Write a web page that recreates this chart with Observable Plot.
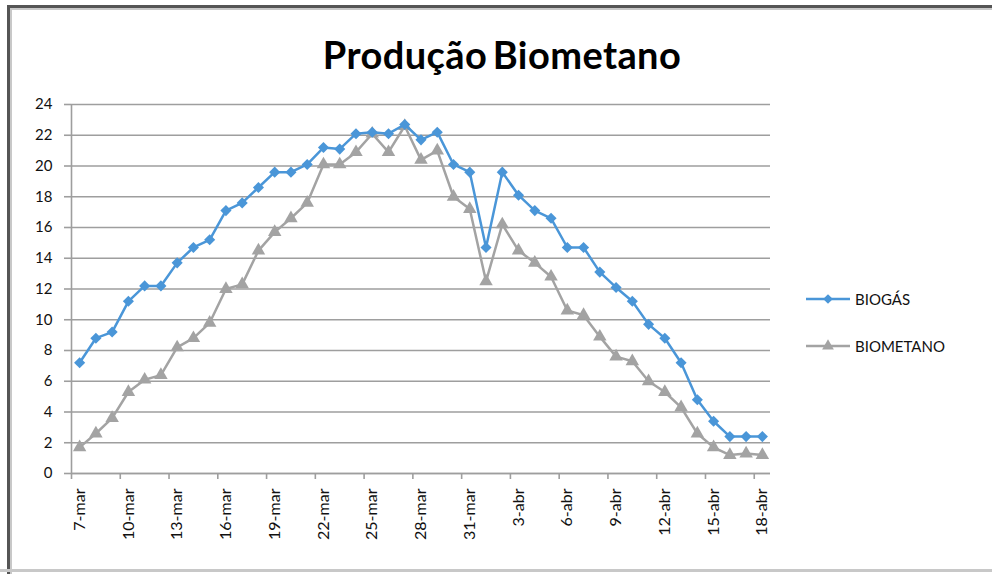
<!DOCTYPE html>
<html>
<head>
<meta charset="utf-8">
<script src="https://cdn.jsdelivr.net/npm/d3@7"></script>
<script src="https://cdn.jsdelivr.net/npm/@observablehq/plot@0.6"></script>
<style>
  html, body { margin: 0; padding: 0; background: #fff; }
  #frame { position: relative; width: 992px; height: 574px; overflow: hidden; background: #fff; font-family: Lato, "Open Sans", sans-serif; }
  #title { position: absolute; top: 32px; left: 502px; transform: translateX(-50%); font-size: 38px; font-weight: 700; color: #000; white-space: nowrap; letter-spacing: 0.4px; word-spacing: -4px; line-height: 44px; }
  #chart { position: absolute; left: 0; top: 90px; }
  .leg { position: absolute; left: 806px; display: flex; align-items: center; font-size: 15px; color: #111; }
  .leg svg { margin-right: 3px; }
</style>
</head>
<body>
<div id="frame">
  <div style="position:absolute;left:7px;top:5px;width:3px;height:574px;background:#555"></div>
  <div style="position:absolute;left:10px;top:8px;width:2px;height:574px;background:#c8c8c8"></div>
  <div style="position:absolute;left:7px;top:5px;width:992px;height:3px;background:#555"></div>
  <div style="position:absolute;left:10px;top:8px;width:992px;height:2px;background:#c8c8c8"></div>
  <div style="position:absolute;left:0;top:569px;width:992px;height:3px;background:#c8c8c8"></div>
  <div id="title">Produção Biometano</div>
  <div id="chart"></div>
  <div class="leg" id="leg1" style="top:290px"></div>
  <div class="leg" id="leg2" style="top:337px"></div>
</div>
<script>
// Categories (one per day)
const days = [
  "7-mar","8-mar","9-mar","10-mar","11-mar","12-mar","13-mar","14-mar","15-mar","16-mar",
  "17-mar","18-mar","19-mar","20-mar","21-mar","22-mar","23-mar","24-mar","25-mar","26-mar",
  "27-mar","28-mar","29-mar","30-mar","31-mar","1-abr","2-abr","3-abr","4-abr","5-abr",
  "6-abr","7-abr","8-abr","9-abr","10-abr","11-abr","12-abr","13-abr","14-abr","15-abr",
  "16-abr","17-abr","18-abr"
];
// Tick labels shown on the x axis
const xTickLabels = ["7-mar","10-mar","13-mar","16-mar","19-mar","22-mar","25-mar","28-mar","31-mar",
  "3-abr","6-abr","9-abr","12-abr","15-abr","18-abr"];
const yTicks = [0, 2, 4, 6, 8, 10, 12, 14, 16, 18, 20, 22, 24];

// Series
const biogas = [7.2, 8.8, 9.2, 11.2, 12.2, 12.2, 13.7, 14.7, 15.2, 17.1,
  17.6, 18.6, 19.6, 19.6, 20.1, 21.2, 21.1, 22.1, 22.2, 22.1,
  22.7, 21.7, 22.2, 20.1, 19.6, 14.7, 19.6, 18.1, 17.1, 16.6,
  14.7, 14.7, 13.1, 12.1, 11.2, 9.7, 8.8, 7.2, 4.8, 3.4,
  2.4, 2.4, 2.4];
const biometano = [1.7, 2.6, 3.6, 5.3, 6.1, 6.4, 8.2, 8.8, 9.8, 12.0,
  12.3, 14.5, 15.7, 16.6, 17.6, 20.1, 20.1, 20.9, 22.1, 20.9,
  22.6, 20.4, 21.0, 18.0, 17.2, 12.5, 16.2, 14.5, 13.7, 12.8,
  10.6, 10.3, 8.9, 7.6, 7.3, 6.0, 5.3, 4.3, 2.6, 1.7,
  1.2, 1.3, 1.2];

const seriesNames = ["BIOGÁS", "BIOMETANO"];
const colors = ["#4a96d8", "#a3a3a3"];

const rowsA = days.map((d, i) => ({i, day: d, v: biogas[i]}));
const rowsB = days.map((d, i) => ({i, day: d, v: biometano[i]}));

const labelPos = xTickLabels.map(l => days.indexOf(l));
const boundaryPos = labelPos.map(p => p - 0.5);

const chart = Plot.plot({
  width: 992,
  height: 484,
  marginLeft: 71,
  marginRight: 222,
  marginTop: 14,
  marginBottom: 101,
  style: {fontFamily: "Lato, 'Open Sans', sans-serif", background: "transparent"},
  x: {type: "linear", domain: [-0.5, days.length - 0.5]},
  y: {domain: [0, 24]},
  marks: [
    Plot.gridY(yTicks, {stroke: "#9e9e9e", strokeOpacity: 1, strokeWidth: 1.6}),
    Plot.ruleX([-0.5], {stroke: "#9e9e9e", strokeWidth: 1.6}),
    Plot.ruleY([0], {stroke: "#9e9e9e", strokeWidth: 1.6}),
    Plot.axisY(yTicks, {tickSize: 7, tickPadding: 12, fontSize: 15, stroke: "#9e9e9e", strokeWidth: 1.6, fill: "#111", label: null}),
    Plot.axisX(boundaryPos, {tickSize: 6, tickFormat: () => "", stroke: "#9e9e9e", strokeWidth: 1.6, label: null}),
    Plot.axisX(labelPos, {tickSize: 0, tickPadding: 15, tickRotate: -90, fontSize: 16, fill: "#111",
      tickFormat: i => days[i], label: null}),
    Plot.line(rowsB, {x: "i", y: "v", stroke: colors[1], strokeWidth: 2.5}),
    Plot.dot(rowsB, {x: "i", y: "v", symbol: "triangle", r: 5, fill: colors[1], stroke: null}),
    Plot.line(rowsA, {x: "i", y: "v", stroke: colors[0], strokeWidth: 2.5}),
    Plot.dot(rowsA, {x: "i", y: "v", symbol: "diamond2", r: 5, fill: colors[0], stroke: null})
  ]
});
document.getElementById("chart").appendChild(chart);

function swatch(color, kind) {
  const svg = d3.create("svg").attr("width", 46).attr("height", 16);
  svg.append("line").attr("x1", 0).attr("x2", 44).attr("y1", 8).attr("y2", 8)
    .attr("stroke", color).attr("stroke-width", 2.5);
  const sym = kind === "diamond" ? d3.symbolDiamond2 : d3.symbolTriangle;
  svg.append("path").attr("d", d3.symbol(sym, 60)()).attr("transform", "translate(22,8)").attr("fill", color);
  return svg.node();
}
const l1 = document.getElementById("leg1");
l1.appendChild(swatch(colors[0], "diamond"));
l1.appendChild(document.createTextNode(seriesNames[0]));
const l2 = document.getElementById("leg2");
l2.appendChild(swatch(colors[1], "triangle"));
l2.appendChild(document.createTextNode(seriesNames[1]));
</script>
</body>
</html>
